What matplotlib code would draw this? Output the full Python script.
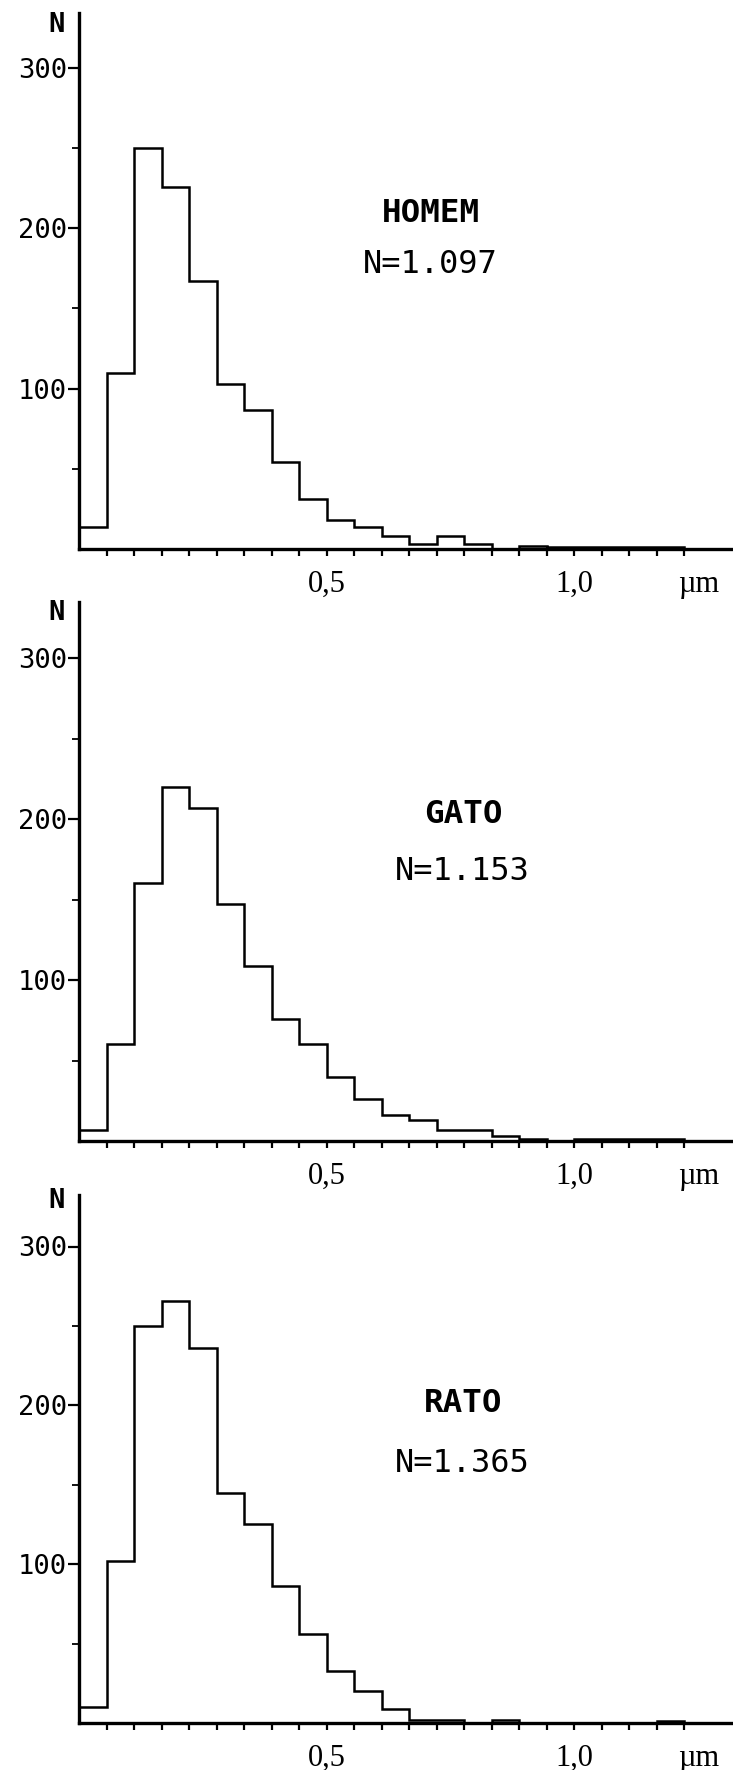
import matplotlib.pyplot as plt
import numpy as np

# counts per size class (class width = 0,5/9 um)
homem = [14, 110, 250, 226, 167, 103, 87, 54, 31, 18, 14, 8, 3, 8, 3, 0, 2, 1, 1, 1, 1, 1, 0, 0]
gato = [7, 60, 160, 220, 207, 147, 109, 76, 60, 40, 26, 16, 13, 7, 7, 3, 1, 0, 1, 1, 1, 1, 0, 0]
rato = [10, 102, 250, 266, 236, 145, 125, 86, 56, 33, 20, 9, 2, 2, 0, 2, 0, 0, 0, 0, 0, 1, 0, 0]

names = ["HOMEM", "GATO", "RATO"]
totals = ["N=1.097", "N=1.153", "N=1.365"]
series = [homem, gato, rato]

bin_w = 0.5 / 9
edges = np.arange(len(homem) + 1) * bin_w
xtick_labels = {9: "0,5", 18: "1,0"}

W, H = 733, 1770
fig = plt.figure(figsize=(W / 100, H / 100), dpi=100)

# pixel layout of each panel: (axis top, 300 tick, baseline)
layout = [(13, 68, 549), (602, 658, 1141), (1195, 1246.5, 1723)]
# text positions in pixels: (name x, name baseline, total x, total baseline, N baseline)
text_pos = [(431, 222, 430, 273, 32), (463, 823, 462, 880, 620), (463, 1412, 462, 1472, 1208)]

left_px = 79
px_per_bin = 27.52
xmax = (W - left_px) / px_per_bin * bin_w

mono = "DejaVu Sans Mono"
serif = "Liberation Serif"

for i, counts in enumerate(series):
    top, t300, base = layout[i]
    ax = fig.add_axes([left_px / W, 1 - base / H, 1 - left_px / W, (base - top) / H])
    ax.stairs(counts, edges, color="black", lw=1.8, baseline=0)
    ax.set_xlim(0, xmax)
    ax.set_ylim(0, 300 * (base - top) / (base - t300))

    for s in ["top", "right"]:
        ax.spines[s].set_visible(False)
    for s in ["left", "bottom"]:
        ax.spines[s].set_linewidth(2.4)

    ax.set_yticks([100, 200, 300])
    ax.set_yticklabels(["100", "200", "300"], family=mono, fontsize=19.5)
    ax.set_yticks([50, 150, 250], minor=True)
    ax.tick_params(axis="y", which="major", direction="out", length=8, width=1.6, pad=0.5)
    ax.tick_params(axis="y", which="minor", direction="out", length=5, width=1.3)

    xt = edges[1:23]
    ax.set_xticks(xt)
    ax.set_xticklabels([xtick_labels.get(k, "") for k in range(1, 23)], family=serif, fontsize=22)
    ax.tick_params(axis="x", which="major", direction="out", length=5, width=1.6, pad=10)

    ax.annotate("µm", xy=(1.25, 0), xycoords="data", xytext=(0, -15), textcoords="offset points",
                ha="center", va="top", family=serif, fontsize=22, annotation_clip=False)

    nx, ny, tx, ty, Ny = text_pos[i]
    fig.text(nx / W, 1 - ny / H, names[i], ha="center", va="baseline",
             family=mono, fontweight="bold", fontsize=23.4)
    fig.text(tx / W, 1 - ty / H, totals[i], ha="center", va="baseline",
             family=mono, fontsize=23)
    fig.text(57 / W, 1 - Ny / H, "N", ha="center", va="baseline",
             family=mono, fontweight="bold", fontsize=19.5)

fig.savefig("out.png", dpi=100, facecolor="white")
